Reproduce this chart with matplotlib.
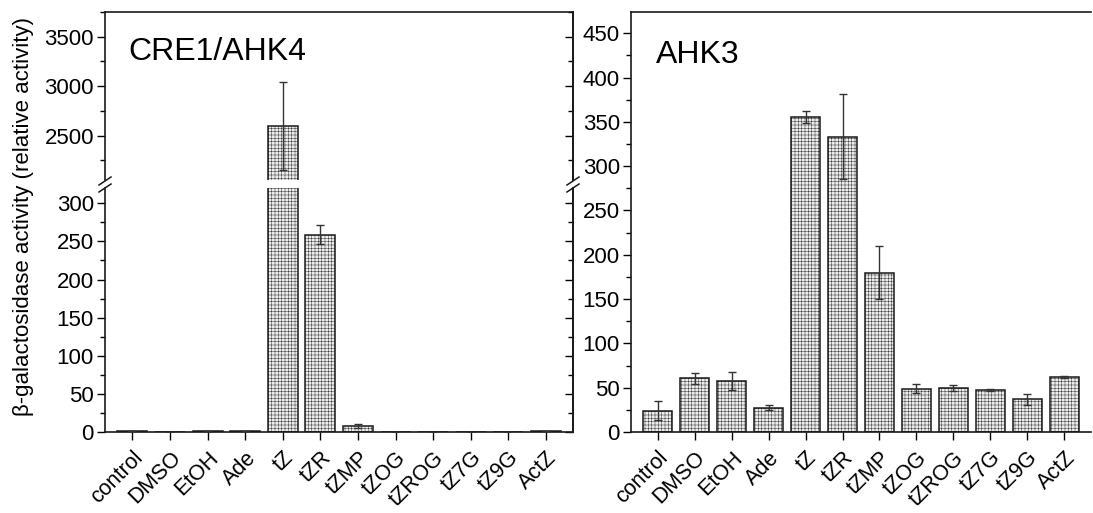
import matplotlib
matplotlib.use("Agg")
import matplotlib.pyplot as plt
import numpy as np
from matplotlib.ticker import MultipleLocator

plt.rcParams['font.family'] = ['Liberation Sans', 'DejaVu Sans']
plt.rcParams['hatch.linewidth'] = 0.3
plt.rcParams['hatch.color'] = '#c2c2c2'

categories = ["control", "DMSO", "EtOH", "Ade", "tZ", "tZR", "tZMP",
              "tZOG", "tZROG", "tZ7G", "tZ9G", "ActZ"]
cre1_values = [1, 0.5, 1, 1, 2600, 259, 8, 0, 0.5, 0, 0, 1.5]
cre1_errors = [0, 0, 0, 0, 445, 13, 3, 0, 0, 0, 0, 0]
ahk3_values = [24, 60.5, 57.5, 27.5, 355.5, 333, 180, 49, 49.5, 47.3, 36.7, 62]
ahk3_errors = [10.5, 6, 10, 3, 7, 48, 30, 5, 3.5, 1.2, 6, 1]

W, H = 1093, 513
fig = plt.figure(figsize=(W / 100, H / 100), dpi=100)

def fx(px):
    return px / W

def fy(py):
    return 1 - py / H

# left panel broken axes
lx0, lx1 = 105, 573
ax_top = fig.add_axes([fx(lx0), fy(180), fx(lx1 - lx0), fy(12) - fy(180)])
ax_bot = fig.add_axes([fx(lx0), fy(432), fx(lx1 - lx0), fy(188) - fy(432)])
rx0, rx1 = 631, 1091
ax_r = fig.add_axes([fx(rx0), fy(432), fx(rx1 - rx0), fy(12) - fy(432)])

x = np.arange(len(categories))
bar_kw = dict(width=0.8, facecolor='#ececec', edgecolor='#1a1a1a', linewidth=1.1,
              hatch='+++++', zorder=2)
err_kw = dict(fmt='none', ecolor='#333333', elinewidth=1.0, capsize=3, capthick=1.0, zorder=3)

for ax in (ax_top, ax_bot):
    ax.bar(x, cre1_values, **bar_kw)
    ax.errorbar(x, cre1_values, yerr=cre1_errors, **err_kw)
    ax.set_xlim(-0.73, 11.72)

ax_top.set_ylim(2050, 3750)
ax_bot.set_ylim(0, 320)
ax_top.yaxis.set_major_locator(MultipleLocator(500))
ax_top.yaxis.set_minor_locator(MultipleLocator(250))
ax_bot.yaxis.set_major_locator(MultipleLocator(50))
ax_bot.yaxis.set_minor_locator(MultipleLocator(25))

ax_r.bar(x, ahk3_values, **bar_kw)
ax_r.errorbar(x, ahk3_values, yerr=ahk3_errors, **err_kw)
ax_r.set_xlim(-0.72, 11.72)
ax_r.set_ylim(0, 474)
ax_r.yaxis.set_major_locator(MultipleLocator(50))
ax_r.yaxis.set_minor_locator(MultipleLocator(25))

for ax in (ax_top, ax_bot, ax_r):
    for s in ax.spines.values():
        s.set_linewidth(1.2)
        s.set_color('#1a1a1a')
    ax.tick_params(axis='y', which='major', direction='out', length=6, width=1.0,
                   labelsize=16, pad=2, right=False)
    ax.tick_params(axis='y', which='minor', direction='out', length=3.5, width=1.0, right=False)

# right side ticks of left panel (inward)
for ax in (ax_top, ax_bot):
    sec = ax.secondary_yaxis('right')
    sec.yaxis.set_major_locator(ax.yaxis.get_major_locator())
    sec.yaxis.set_minor_locator(ax.yaxis.get_minor_locator())
    sec.tick_params(which='major', direction='in', length=6, width=1.0, labelright=False)
    sec.tick_params(which='minor', direction='in', length=3.5, width=1.0, labelright=False)
    sec.spines['right'].set_linewidth(1.2)

ax_top.spines['bottom'].set_visible(False)
ax_bot.spines['top'].set_visible(False)
ax_top.tick_params(axis='x', which='both', bottom=False, labelbottom=False)

for ax in (ax_bot, ax_r):
    ax.set_xticks(x)
    ax.set_xticklabels(categories, rotation=45, ha='right', rotation_mode='anchor', fontsize=15.5)
    ax.tick_params(axis='x', which='major', direction='out', length=6, width=1.0, pad=5, top=False)
    ax.tick_params(axis='x', which='minor', bottom=False)

ax_r.spines['right'].set_visible(False)

# panel titles
ax_top.text(0.05, 0.762, "CRE1/AHK4", transform=ax_top.transAxes, fontsize=23,
            ha='left', va='center')
ax_r.text(0.055, 0.897, "AHK3", transform=ax_r.transAxes, fontsize=23,
          ha='left', va='center')

# break marks
for px in (lx0, lx1):
    for py in (181, 188):
        fig.add_artist(plt.Line2D([fx(px - 6), fx(px + 6)], [fy(py + 4), fy(py - 4)],
                                  color='#1a1a1a', linewidth=1.1))

fig.text(fx(24), fy(216), "β-galactosidase activity (relative activity)", rotation=90,
         ha='center', va='center', fontsize=16)

fig.savefig("out.png", dpi=100)
